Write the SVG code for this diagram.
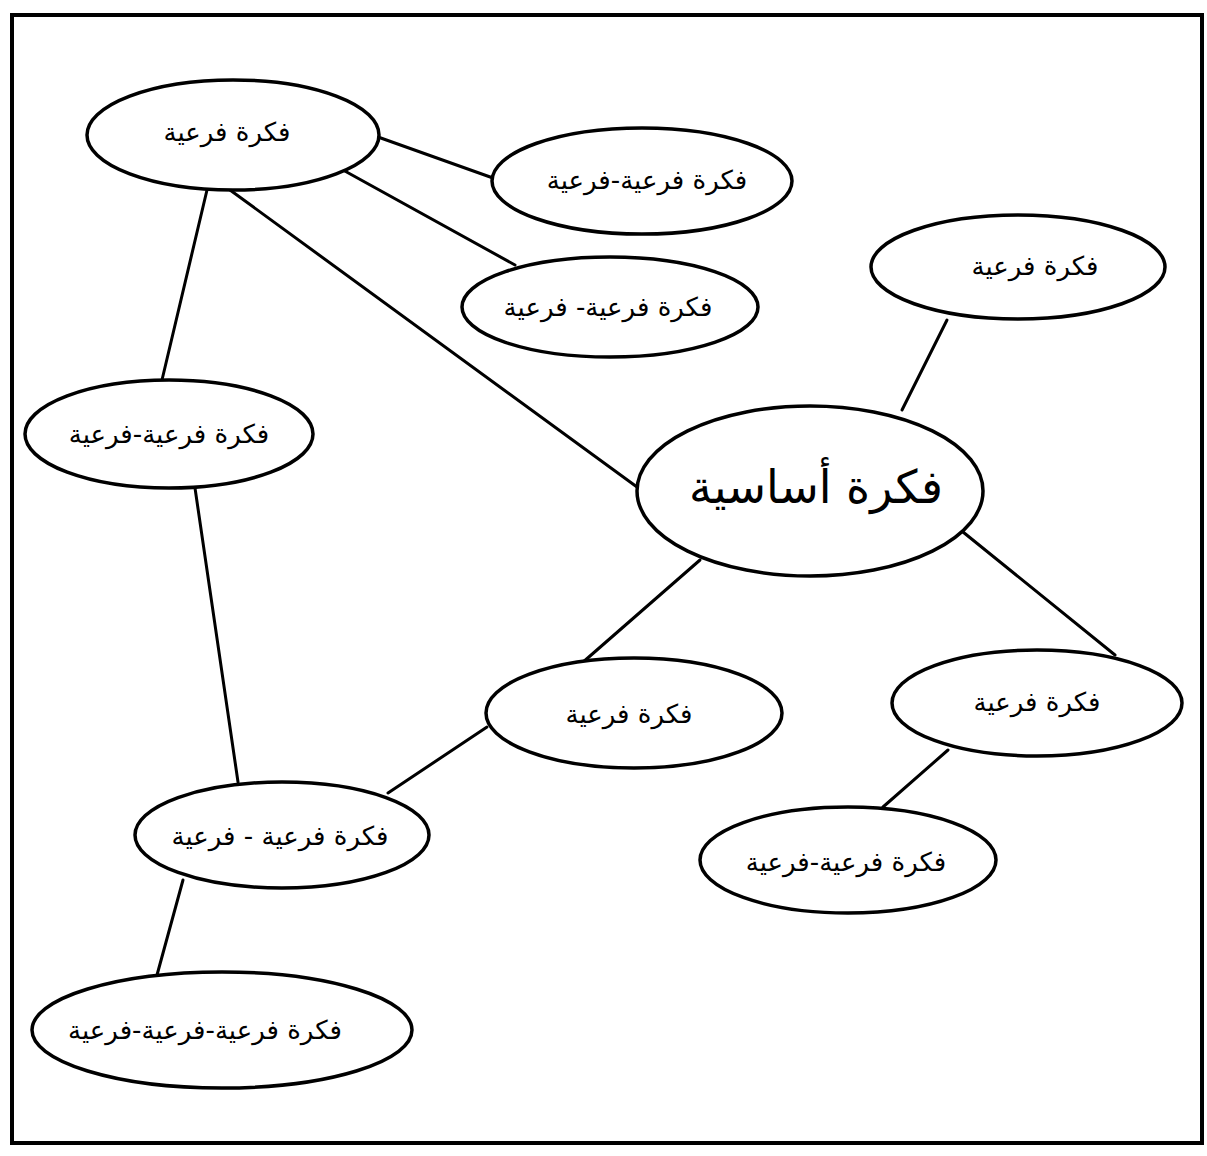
<svg xmlns="http://www.w3.org/2000/svg" width="1207" height="1156" viewBox="0 0 1207 1156">
<style>
.n{fill:#fff;stroke:#000;stroke-width:3.5}
.t{font-family:"DejaVu Sans",sans-serif;font-size:26px;text-anchor:middle;fill:#000}
.big{font-size:46px}
.c line{stroke:#000;stroke-width:3;stroke-linecap:round}
</style>
<rect x="0" y="0" width="1207" height="1156" fill="#fff"/>
<rect x="12" y="15" width="1190" height="1128" fill="none" stroke="#000" stroke-width="4"/>
<g id="connectors" class="c">
<line x1="378" y1="137" x2="493" y2="178"/>
<line x1="343" y1="170" x2="515" y2="265"/>
<line x1="230" y1="190" x2="637" y2="487"/>
<line x1="207" y1="190" x2="162" y2="380"/>
<line x1="947" y1="320" x2="902" y2="410"/>
<line x1="700" y1="560" x2="582" y2="663"/>
<line x1="963" y1="532" x2="1115" y2="655"/>
<line x1="487" y1="727" x2="388" y2="793"/>
<line x1="195" y1="488" x2="238" y2="782"/>
<line x1="948" y1="750" x2="883" y2="807"/>
<line x1="183" y1="880" x2="157" y2="975"/>
</g>
<g id="n1"><ellipse class="n" cx="233" cy="135" rx="146" ry="55"/><text class="t" x="227" y="141">فكرة فرعية</text></g>
<g id="n2"><ellipse class="n" cx="642" cy="181" rx="150" ry="53"/><text class="t" x="647" y="189">فكرة فرعية-فرعية</text></g>
<g id="n3"><ellipse class="n" cx="610" cy="307" rx="148" ry="50"/><text class="t" x="608" y="316">فكرة فرعية- فرعية</text></g>
<g id="n4"><ellipse class="n" cx="1018" cy="267" rx="147" ry="52"/><text class="t" x="1035" y="275">فكرة فرعية</text></g>
<g id="n5"><ellipse class="n" cx="169" cy="434" rx="144" ry="54"/><text class="t" x="169" y="443">فكرة فرعية-فرعية</text></g>
<g id="main"><ellipse class="n" cx="810" cy="491" rx="173" ry="85"/><text class="t big" x="816" y="503">فكرة أساسية</text></g>
<g id="n7"><ellipse class="n" cx="634" cy="713" rx="148" ry="55"/><text class="t" x="629" y="723">فكرة فرعية</text></g>
<g id="n8"><ellipse class="n" cx="1037" cy="703" rx="145" ry="53"/><text class="t" x="1037" y="711">فكرة فرعية</text></g>
<g id="n9"><ellipse class="n" cx="282" cy="835" rx="147" ry="53"/><text class="t" x="280" y="845">فكرة فرعية - فرعية</text></g>
<g id="n10"><ellipse class="n" cx="848" cy="860" rx="148" ry="53"/><text class="t" x="846" y="871">فكرة فرعية-فرعية</text></g>
<g id="n11"><ellipse class="n" cx="222" cy="1030" rx="190" ry="58"/><text class="t" x="205" y="1039">فكرة فرعية-فرعية-فرعية</text></g>
</svg>
